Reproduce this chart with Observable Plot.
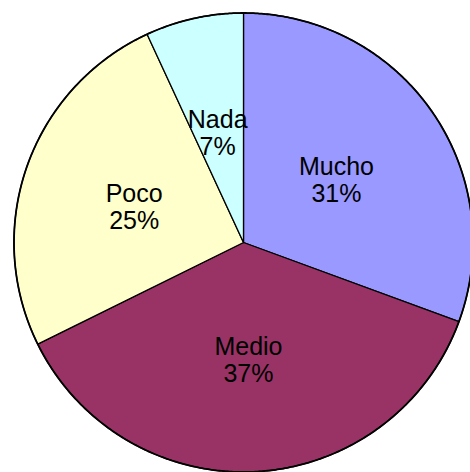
<!DOCTYPE html>
<html>
<head>
<meta charset="utf-8">
<script src="https://cdn.jsdelivr.net/npm/d3@7"></script>
<script src="https://cdn.jsdelivr.net/npm/@observablehq/plot@0.6"></script>
<style>
  html, body { margin: 0; padding: 0; background: #ffffff; }
  #chart { width: 470px; height: 472px; overflow: hidden; }
</style>
</head>
<body>
<div id="chart"></div>
<script>
const categories = ["Mucho", "Medio", "Poco", "Nada"];
const values = [30.6, 37.1, 25.4, 6.9];
const percentLabels = ["31%", "37%", "25%", "7%"];
const colors = ["#9999FF", "#993366", "#FFFFCC", "#CCFFFF"];

const arcs = d3.pie().sort(null).value(d => d)(values);

// polygon outline for each slice, built from the pie angles
const slicePoints = [];
arcs.forEach((a, i) => {
  const cat = categories[i];
  slicePoints.push({cat, x: 0, y: 0});
  const steps = Math.max(2, Math.ceil((a.endAngle - a.startAngle) / (Math.PI / 360)));
  for (let s = 0; s <= steps; s++) {
    const t = a.startAngle + (a.endAngle - a.startAngle) * s / steps;
    slicePoints.push({cat, x: Math.sin(t), y: Math.cos(t)});
  }
  slicePoints.push({cat, x: 0, y: 0});
});

const rim = [];
for (let s = 0; s <= 720; s++) {
  const t = 2 * Math.PI * s / 720;
  rim.push({x: Math.sin(t), y: Math.cos(t)});
}

const labelData = arcs.map((a, i) => {
  const mid = (a.startAngle + a.endAngle) / 2;
  const k = 0.5;
  return {text: categories[i] + "\n" + percentLabels[i], x: k * Math.sin(mid) - 0.005, y: k * Math.cos(mid) - 0.012};
});

const R = 229.5, cx = 243, cy = 242;
const chart = Plot.plot({
  width: 470,
  height: 472,
  margin: 0,
  style: {background: "#ffffff", overflow: "hidden"},
  x: {domain: [-1, 1], range: [cx - R, cx + R], axis: null},
  y: {domain: [-1, 1], range: [cy + R, cy - R], axis: null},
  color: {domain: categories, range: colors},
  marks: [
    Plot.line(slicePoints, {x: "x", y: "y", z: "cat", fill: "cat", stroke: "#000000", strokeWidth: 1.3, strokeLinejoin: "round"}),
    Plot.line(rim, {x: "x", y: "y", stroke: "#000000", strokeWidth: 1.8}),
    Plot.text(labelData, {x: "x", y: "y", text: "text", fontSize: 25, lineHeight: 1.08, fill: "#000000", fontFamily: "'Liberation Sans', Arial, sans-serif", textAnchor: "middle", lineAnchor: "middle"})
  ]
});
document.getElementById("chart").appendChild(chart);
</script>
</body>
</html>
